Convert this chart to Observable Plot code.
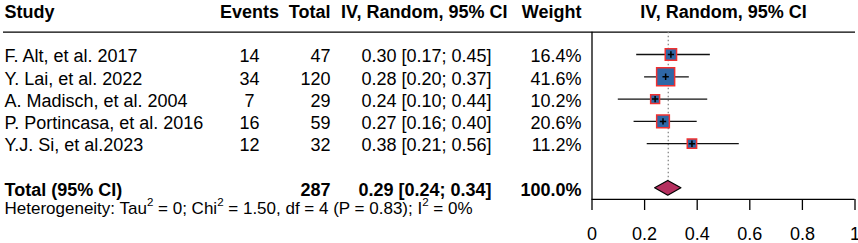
<!DOCTYPE html>
<html><head><meta charset="utf-8">
<script src="https://cdn.jsdelivr.net/npm/d3@7"></script>
<script src="https://cdn.jsdelivr.net/npm/@observablehq/plot@0.6"></script>
<style>body{margin:0;background:#fff}svg{display:block}</style>
</head><body><div id="chart"></div>
<script>
// ---- data ----
const studies = ["F. Alt, et al. 2017", "Y. Lai, et al. 2022", "A. Madisch, et al. 2004", "P. Portincasa, et al. 2016", "Y.J. Si, et al.2023"];
const events = [14, 34, 7, 16, 12];
const totals = [47, 120, 29, 59, 32];
const estimates = [0.30, 0.28, 0.24, 0.27, 0.38];
const lowers = [0.17, 0.20, 0.10, 0.16, 0.21];
const uppers = [0.45, 0.37, 0.44, 0.40, 0.56];
const weights = [16.4, 41.6, 10.2, 20.6, 11.2];
const pooledEst = 0.29, pooledLower = 0.24, pooledUpper = 0.34;
const pooledTotal = 287, pooledWeight = 100.0;
const totalLabel = "Total (95% CI)";
// "^" marks a superscript 2
const hetLabel = "Heterogeneity: Tau^ = 0; Chi^ = 1.50, df = 4 (P = 0.83); I^ = 0%";
const headerLabels = ["Study", "Events", "Total", "IV, Random, 95% CI", "Weight"];
const plotHeader = "IV, Random, 95% CI";
const xTicks = [0, 0.2, 0.4, 0.6, 0.8, 1];

// ---- layout / style ----
const W = 858, H = 243;
const FONT = "'Liberation Sans', Arial, Helvetica, sans-serif";
const FS = 18, HET_FS = 17;
const ML = 3, MR = 3, MB = 44;
const colX = {study: 4, events: 249, total: 330, ci: 491, ciHead: 507, weight: 581};
const ROW0 = 31.7, ROWPX = 22.3;
const headerRow = -1, totalRow = 7, hetRow = 7.8, axisRow = 7.5;
const diamondHalf = 0.33;
const maxSide = 18;

const f2 = v => v.toFixed(2);
const rows = studies.map((s, i) => ({
  row: i + 1, study: s, events: events[i], total: totals[i],
  ci: `${f2(estimates[i])} [${f2(lowers[i])}; ${f2(uppers[i])}]`,
  weight: weights[i].toFixed(1) + "%",
  est: estimates[i], lo: lowers[i], hi: uppers[i], w: weights[i]
}));
const totalRowData = [{
  row: totalRow, study: totalLabel, total: pooledTotal,
  ci: `${f2(pooledEst)} [${f2(pooledLower)}; ${f2(pooledUpper)}]`,
  weight: pooledWeight.toFixed(1) + "%"
}];
const headers = [{row: headerRow, study: headerLabels[0], events: headerLabels[1], total: headerLabels[2], ci: headerLabels[3], weight: headerLabels[4]}];
const diamond = [
  {y: totalRow - diamondHalf, x1: pooledEst, x2: pooledEst},
  {y: totalRow, x1: pooledLower, x2: pooledUpper},
  {y: totalRow + diamondHalf, x1: pooledEst, x2: pooledEst}
];

function col(data, field, x, anchor, weight) {
  return Plot.text(data, {
    y: "row", text: field, frameAnchor: "left", dx: x - ML, dy: 2,
    textAnchor: anchor, fontWeight: weight, fontSize: FS, fill: "#000"
  });
}

const xMin = d3.min(xTicks), xMax = d3.max(xTicks);
const chart = Plot.plot({
  width: W, height: H,
  marginLeft: ML, marginRight: MR, marginTop: 0, marginBottom: MB,
  style: {fontFamily: FONT, fontSize: FS + "px", background: "#fff", color: "#000"},
  x: {domain: [xMin, xMax], range: [591.5, 854.5], axis: null},
  y: {domain: [0, 10], range: [ROW0, ROW0 + 10 * ROWPX], axis: null},
  r: {type: "sqrt", domain: [0, d3.max(weights)], range: [0, maxSide / Math.sqrt(Math.PI)]},
  marks: [
    // table header
    col(headers, "study", colX.study, "start", "bold"),
    col(headers, "events", colX.events, "middle", "bold"),
    col(headers, "total", colX.total, "end", "bold"),
    col(headers, "ci", colX.ciHead, "end", "bold"),
    col(headers, "weight", colX.weight, "end", "bold"),
    Plot.text([plotHeader], {x: (xMin + xMax) / 2, y: headerRow, text: d => d, dy: 2, fontSize: FS, fontWeight: "bold"}),
    // header rule
    Plot.ruleY([0], {stroke: "#000", strokeWidth: 1.3}),
    // studies
    col(rows, "study", colX.study, "start", "normal"),
    col(rows, "events", colX.events, "middle", "normal"),
    col(rows, "total", colX.total, "end", "normal"),
    col(rows, "ci", colX.ci, "end", "normal"),
    col(rows, "weight", colX.weight, "end", "normal"),
    // total
    col(totalRowData, "study", colX.study, "start", "bold"),
    col(totalRowData, "total", colX.total, "end", "bold"),
    col(totalRowData, "ci", colX.ci, "end", "bold"),
    col(totalRowData, "weight", colX.weight, "end", "bold"),
    Plot.text([hetLabel], {y: hetRow, text: d => d, frameAnchor: "left", dx: colX.study - ML, dy: 2, textAnchor: "start", fontSize: HET_FS}),
    // forest panel
    Plot.ruleX([pooledEst], {y1: 0, y2: totalRow - diamondHalf, stroke: "#888", strokeWidth: 1.3, strokeDasharray: "1.5,2.5"}),
    Plot.ruleX([xMin], {y1: 0, y2: axisRow, stroke: "#000", strokeWidth: 1.3}),
    Plot.ruleY([axisRow], {x1: xMin, x2: xMax, stroke: "#000", strokeWidth: 1.3}),
    Plot.ruleY(rows, {y: "row", x1: "lo", x2: "hi", stroke: "#111", strokeWidth: 1.3}),
    Plot.dot(rows, {x: "est", y: "row", r: "w", symbol: "square", fill: "#2f67a6", stroke: "#f03030", strokeWidth: 1.5}),
    Plot.dot(rows, {x: "est", y: "row", r: 2.2, symbol: "plus", stroke: "#000", strokeWidth: 1.5}),
    Plot.areaX(diamond, {y: "y", x1: "x1", x2: "x2", fill: "#b5305f", stroke: "#000", strokeWidth: 1.2}),
    Plot.axisX(xTicks, {anchor: "bottom", tickSize: 11, tickPadding: 17, fontSize: FS, strokeWidth: 1.3, tickFormat: d => String(d)})
  ]
});

// turn "^" markers into real superscript 2s
chart.querySelectorAll("text").forEach(t => {
  const s = t.textContent;
  if (!s.includes("^")) return;
  const parts = s.split("^");
  t.textContent = "";
  const ns = "http://www.w3.org/2000/svg";
  const supSize = HET_FS * 0.68, lift = HET_FS * 0.42;
  parts.forEach((p, i) => {
    const a = document.createElementNS(ns, "tspan");
    a.textContent = p;
    if (i > 0) a.setAttribute("dy", lift);
    t.appendChild(a);
    if (i < parts.length - 1) {
      const b = document.createElementNS(ns, "tspan");
      b.textContent = "2";
      b.setAttribute("font-size", supSize);
      b.setAttribute("dy", -lift);
      t.appendChild(b);
    }
  });
});
document.getElementById("chart").append(chart);
</script>
</body></html>
